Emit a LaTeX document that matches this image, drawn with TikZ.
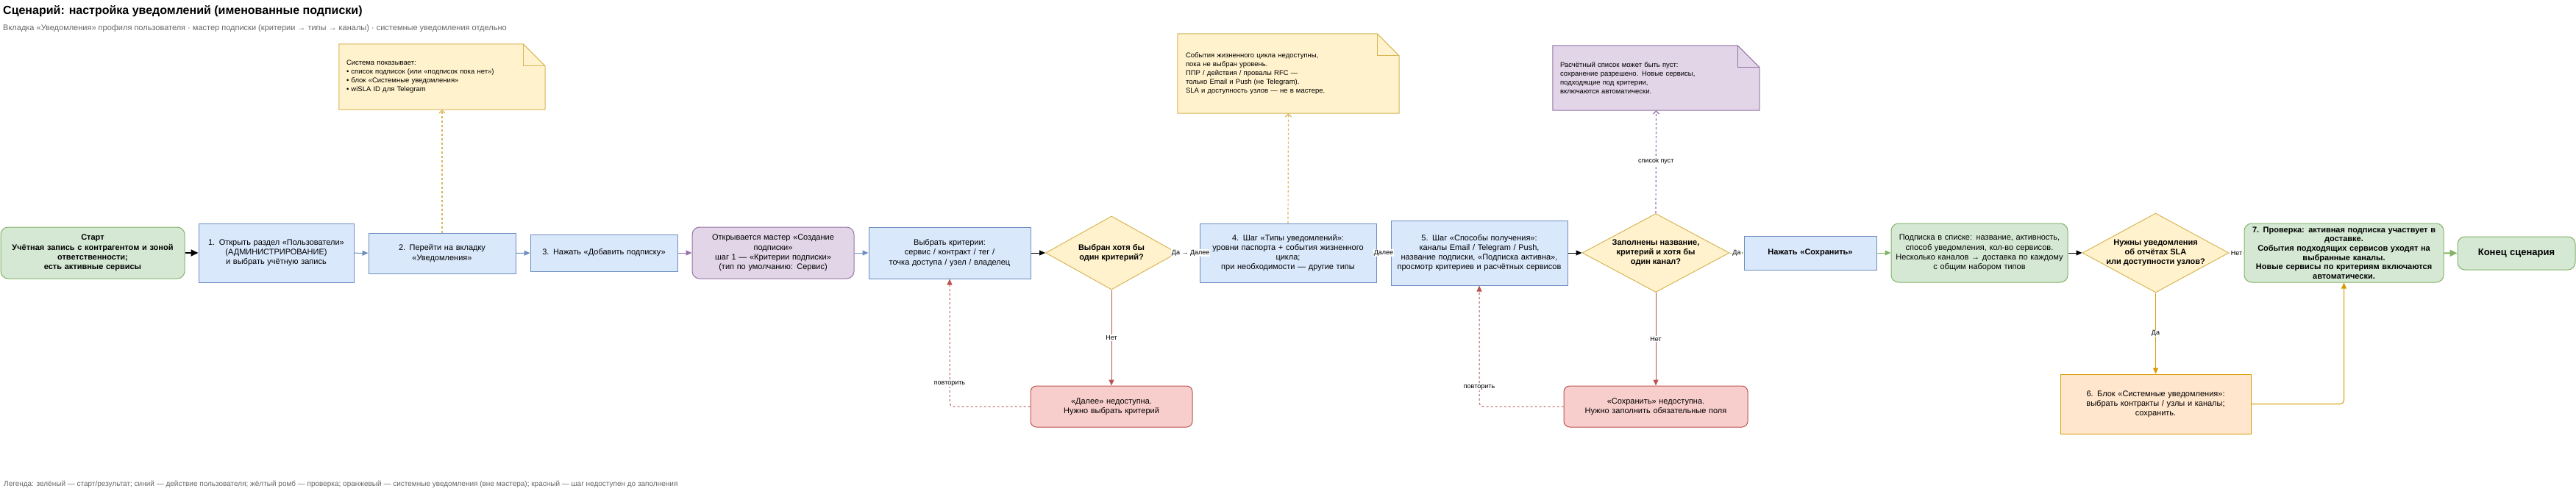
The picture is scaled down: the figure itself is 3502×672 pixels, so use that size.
\documentclass[tikz,border=0pt]{standalone}
\usepackage{fontspec}
\setmainfont{Liberation Sans}
\usetikzlibrary{arrows.meta,shapes.geometric,backgrounds,calc}
\definecolor{gfill}{HTML}{D5E8D4}\definecolor{gline}{HTML}{82B366}
\definecolor{bfill}{HTML}{DAE8FC}\definecolor{bline}{HTML}{6C8EBF}
\definecolor{pfill}{HTML}{E1D5E7}\definecolor{pline}{HTML}{9673A6}
\definecolor{yfill}{HTML}{FFF2CC}\definecolor{yline}{HTML}{D6B656}
\definecolor{ofill}{HTML}{FFE6CC}\definecolor{oline}{HTML}{D79B00}
\definecolor{rfill}{HTML}{F8CECC}\definecolor{rline}{HTML}{B85450}
\definecolor{txtgray}{HTML}{666666}
\newcommand{\fsz}[2]{\fontsize{#1}{#2}\selectfont}
\begin{document}
\begin{tikzpicture}[x=1pt,y=-1pt,
  box/.style={draw, line width=1pt, inner sep=0pt, align=center, font=\fsz{11}{13.2}},
  bluebox/.style={box, fill=bfill, draw=bline},
  greenbox/.style={box, fill=gfill, draw=gline, rounded corners=10pt},
  purplebox/.style={box, fill=pfill, draw=pline, rounded corners=10pt},
  redbox/.style={box, fill=rfill, draw=rline, rounded corners=8pt},
  orangebox/.style={box, fill=ofill, draw=oline},
  dshape/.style={diamond, draw=yline, fill=yfill, line width=1pt, inner sep=0pt},
  dtext/.style={align=center, inner sep=0pt, font=\bfseries\fsz{11}{13.2}},
  notetext/.style={align=left, inner sep=0pt, font=\fsz{9.5}{12}},
  arr/.style={-{Triangle[length=8pt,width=7pt]}, line width=1pt},
  notearr/.style={-{Straight Barb[length=4pt,width=8pt]}, line width=1.2pt, dash pattern=on 3pt off 3pt},
  loop/.style={arr, rline, dash pattern=on 3pt off 3pt, rounded corners=5pt},
  elabel/.style={fill=white, inner sep=1pt, font=\fsz{9}{10}, text=black},
]
\useasboundingbox (0,0) rectangle (3502,672);

% titles
\node[anchor=west, inner sep=0pt, font=\bfseries\fsz{16}{19}] (title) at (4,15) {Сценарий: настройка уведомлений (именованные подписки)};
\node[anchor=west, inner sep=0pt, font=\fsz{11}{13}, text=txtgray] (subtitle) at (4,39) {Вкладка «Уведомления» профиля пользователя · мастер подписки (критерии → типы → каналы) · системные уведомления отдельно};
\node[anchor=west, inner sep=0pt, font=\fsz{10}{12}, text=txtgray] (legend) at (5,659) {Легенда: зелёный — старт/результат; синий — действие пользователя; жёлтый ромб — проверка; оранжевый — системные уведомления (вне мастера); красный — шаг недоступен до заполнения};

% main row
\node[greenbox, font=\bfseries\fsz{11}{13.2}, minimum width=250pt, minimum height=70pt, text width=240pt] (start) at (126,344) {Старт\\Учётная запись с контрагентом и зоной\\ответственности;\\есть активные сервисы};
\node[bluebox, minimum width=211pt, minimum height=80pt, text width=205pt] (n1) at (375.5,344) {1. Открыть раздел «Пользователи»\\(АДМИНИСТРИРОВАНИЕ)\\и выбрать учётную запись};
\node[bluebox, minimum width=200pt, minimum height=55pt, text width=190pt] (n2) at (601,344.5) {2. Перейти на вкладку\\«Уведомления»};
\node[bluebox, minimum width=200pt, minimum height=50pt, text width=190pt] (n3) at (821,344) {3. Нажать «Добавить подписку»};
\node[purplebox, minimum width=220pt, minimum height=70pt, text width=210pt] (wiz) at (1051,344) {Открывается мастер «Создание\\подписки»\\шаг 1 — «Критерии подписки»\\(тип по умолчанию: Сервис)};
\node[bluebox, minimum width=220pt, minimum height=70pt, text width=210pt] (crit) at (1291,344) {Выбрать критерии:\\сервис / контракт / тег /\\точка доступа / узел / владелец};
\node[dshape, minimum width=179pt, minimum height=100pt] (d1) at (1511,344) {};
\node[dtext] (d1t) at (d1) {Выбран хотя бы\\один критерий?};
\node[bluebox, minimum width=240pt, minimum height=80pt, text width=234pt] (n4) at (1751,344) {4. Шаг «Типы уведомлений»:\\уровни паспорта + события жизненного\\цикла;\\при необходимости — другие типы};
\node[bluebox, minimum width=240pt, minimum height=88pt, text width=234pt] (n5) at (2011,344) {5. Шаг «Способы получения»:\\каналы Email / Telegram / Push,\\название подписки, «Подписка активна»,\\просмотр критериев и расчётных сервисов};
\node[dshape, minimum width=200pt, minimum height=107pt] (d2) at (2251,344) {};
\node[dtext] (d2t) at (d2) {Заполнены название,\\критерий и хотя бы\\один канал?};
\node[bluebox, font=\bfseries\fsz{11}{13.2}, minimum width=180pt, minimum height=46pt, text width=170pt] (save) at (2461,344) {Нажать «Сохранить»};
\node[greenbox, minimum width=240pt, minimum height=80pt, text width=236pt] (sub) at (2691,344) {Подписка в списке: название, активность,\\способ уведомления, кол-во сервисов.\\Несколько каналов → доставка по каждому\\с общим набором типов};
\node[dshape, minimum width=199pt, minimum height=108pt] (d3) at (2930.5,344) {};
\node[dtext] (d3t) at (d3) {Нужны уведомления\\об отчётах SLA\\или доступности узлов?};
\node[greenbox, font=\bfseries\fsz{11}{12.6}, minimum width=271pt, minimum height=80pt, text width=265pt] (n7) at (3186.5,344) {7. Проверка: активная подписка участвует в\\доставке.\\События подходящих сервисов уходят на\\выбранные каналы.\\Новые сервисы по критериям включаются\\автоматически.};
\node[greenbox, font=\bfseries\fsz{13}{15}, minimum width=160pt, minimum height=45pt, text width=150pt] (end) at (3421,344.5) {Конец сценария};

% lower row
\node[redbox, minimum width=220pt, minimum height=56pt, text width=210pt] (err1) at (1511,553) {«Далее» недоступна.\\Нужно выбрать критерий};
\node[redbox, minimum width=250pt, minimum height=56pt, text width=240pt] (err2) at (2251,553) {«Сохранить» недоступна.\\Нужно заполнить обязательные поля};
\node[orangebox, minimum width=259pt, minimum height=81pt, text width=250pt] (n6) at (2930.5,549.5) {6. Блок «Системные уведомления»:\\выбрать контракты / узлы и каналы;\\сохранить.};

% notes
\node[notetext, minimum width=280pt, minimum height=89pt, text width=260pt] (note1) at (601,104.5) {Система показывает:\\• список подписок (или «подписок пока нет»)\\• блок «Системные уведомления»\\• wiSLA ID для Telegram};
\node[notetext, minimum width=301pt, minimum height=108pt, text width=279pt] (note2) at (1751.5,100) {События жизненного цикла недоступны,\\пока не выбран уровень.\\ППР / действия / провалы RFC —\\только Email и Push (не Telegram).\\SLA и доступность узлов — не в мастере.};
\node[notetext, minimum width=281pt, minimum height=88pt, text width=261pt] (note3) at (2251.5,106) {Расчётный список может быть пуст:\\сохранение разрешено. Новые сервисы,\\подходящие под критерии,\\включаются автоматически.};

\begin{scope}[on background layer]
  \foreach \n/\f/\l in {note1/yfill/yline, note2/yfill/yline, note3/pfill/pline} {
    \path[fill=\f, draw=\l, line width=1pt] (\n.north west) -- ($(\n.north east)+(-30,0)$) -- ($(\n.north east)+(0,30)$) -- (\n.south east) -- (\n.south west) -- cycle;
    \draw[\l, line width=1pt] ($(\n.north east)+(-30,0)$) -- ($(\n.north east)+(-30,30)$) -- ($(\n.north east)+(0,30)$);
  }
\end{scope}

% connectors
\draw[arr, black, line width=2pt, -{Triangle[length=10pt,width=9pt]}] (start) -- (n1);
\draw[arr, bline] (n1) -- (n2);
\draw[arr, bline] (n2) -- (n3);
\draw[arr, pline] (n3) -- (wiz);
\draw[arr, bline] (wiz) -- (crit);
\draw[arr, black] (crit) -- (d1);
\draw[arr, black] (d1.east) -- (n4.west) node[elabel, pos=0.6] {Да → Далее};
\draw[arr, black] (n4) -- (n5) node[elabel, midway] {Далее};
\draw[arr, black] (n5) -- (d2.west);
\draw[arr, gline] (d2.east) -- (save) node[elabel, midway] {Да};
\draw[arr, gline] (save) -- (sub);
\draw[arr, black] (sub) -- (d3.west);
\draw[arr, yline] (d3.east) -- (n7) node[elabel, midway] {Нет};
\draw[arr, gline, line width=2pt, -{Triangle[length=10pt,width=9pt]}] (n7) -- (end);

\draw[arr, rline] (d1.south) -- (err1) node[elabel, midway] {Нет};
\draw[arr, rline] (d2.south) -- (err2) node[elabel, midway] {Нет};
\draw[arr, oline] (d3.south) -- (n6) node[elabel, midway] {Да};
\draw[arr, oline, rounded corners=5pt] (n6.east) -| (n7.south);

\draw[loop] (err1.west) -| node[elabel, pos=0.59] {повторить} (crit.south);
\draw[loop] (err2.west) -| node[elabel, pos=0.58] {повторить} (n5.south);

\draw[notearr, yline] (n2.north) -- (note1.south);
\draw[notearr, yline] (n4.north) -- (note2.south);
\draw[notearr, pline] (d2.north) -- (note3.south) node[elabel, midway] {список пуст};
\end{tikzpicture}
\end{document}
